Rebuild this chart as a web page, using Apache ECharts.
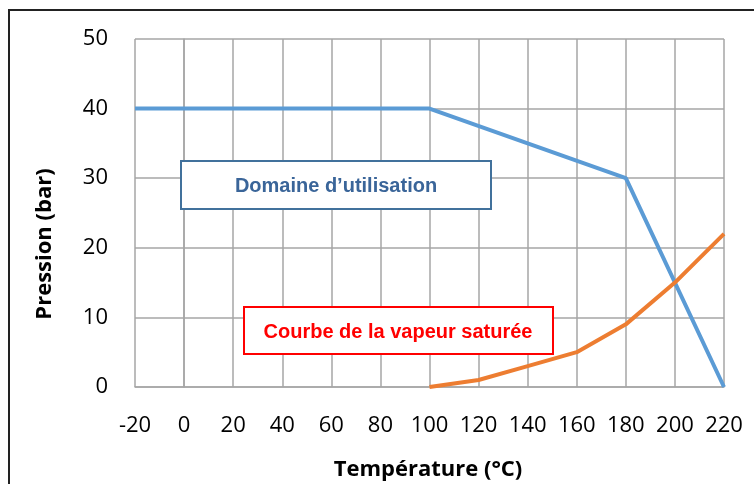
<!DOCTYPE html>
<html><head><meta charset="utf-8">
<script src="https://cdn.jsdelivr.net/npm/echarts@6/dist/echarts.min.js"></script>
<style>html,body{margin:0;padding:0;background:#fff}#c{width:754px;height:484px}</style>
</head><body><div id="c"></div>
<script>
const xTicks = [-20, 0, 20, 40, 60, 80, 100, 120, 140, 160, 180, 200, 220];
const yTicks = [0, 10, 20, 30, 40, 50];
const domaineX = [-20, 100, 180, 220];
const domaineY = [40, 40, 30, 0];
const vapeurX = [100, 120, 140, 160, 180, 200, 220];
const vapeurY = [0, 1, 3, 5, 9, 15, 22];
const xTitle = 'Température (°C)';
const yTitle = 'Pression (bar)';
const box1Text = 'Domaine d\u2019utilisation';
const box2Text = 'Courbe de la vapeur saturée';

const chart = echarts.init(document.getElementById('c'), null, {renderer: 'canvas'});
const gridStyle = {color: '#a6a6a6', width: 1.5};
const lblFont = {color: '#000', fontSize: 22, fontFamily: 'Open Sans, Noto Sans, sans-serif'};
chart.setOption({
  animation: false,
  grid: {left: 135, top: 39, right: 30, bottom: 97, containLabel: false, outerBoundsMode: 'none'},
  xAxis: {
    type: 'value', min: xTicks[0], max: xTicks[xTicks.length-1], interval: 20,
    axisLine: {show: true, lineStyle: gridStyle}, axisTick: {show: false},
    splitLine: {show: true, lineStyle: gridStyle},
    axisLabel: Object.assign({margin: 28}, lblFont)
  },
  yAxis: {
    type: 'value', min: yTicks[0], max: yTicks[yTicks.length-1], interval: 10,
    axisLine: {show: true, lineStyle: gridStyle}, axisTick: {show: false},
    splitLine: {show: true, lineStyle: gridStyle},
    axisLabel: Object.assign({margin: 27}, lblFont)
  },
  series: [
    {type: 'line', data: domaineX.map((x,i)=>[x, domaineY[i]]), symbol: 'none',
     lineStyle: {color: '#5B9BD5', width: 4}, z: 3},
    {type: 'line', data: vapeurX.map((x,i)=>[x, vapeurY[i]]), symbol: 'none',
     lineStyle: {color: '#ED7D31', width: 4}, z: 3}
  ],
  graphic: [
    {type: 'polyline', shape: {points: [[9, 484], [9, 10], [754, 10]]},
     style: {stroke: '#222', lineWidth: 2, fill: null}, z: 10},
    {type: 'text', x: 45, y: 244, rotation: Math.PI / 2, z: 11,
     style: {text: yTitle, align: 'center', verticalAlign: 'middle', fill: '#000',
       font: 'bold 22px "Open Sans", "Noto Sans", sans-serif'}},
    {type: 'text', x: 428, y: 470, z: 11,
     style: {text: xTitle, align: 'center', verticalAlign: 'middle', fill: '#000',
       font: 'bold 22px "Open Sans", "Noto Sans", sans-serif'}},
    {type: 'rect', shape: {x: 181, y: 161, width: 310, height: 48},
     style: {fill: '#fff', stroke: '#41719C', lineWidth: 2}, z: 10},
    {type: 'text', x: 336, y: 186, z: 11,
     style: {text: box1Text, align: 'center', verticalAlign: 'middle', fill: '#3A6599',
       font: 'bold 20px "Liberation Sans", Arial, sans-serif'}},
    {type: 'rect', shape: {x: 244, y: 307, width: 309, height: 47},
     style: {fill: '#fff', stroke: '#FF0000', lineWidth: 2}, z: 10},
    {type: 'text', x: 398, y: 332, z: 11,
     style: {text: box2Text, align: 'center', verticalAlign: 'middle', fill: '#FF0000',
       font: 'bold 20px "Liberation Sans", Arial, sans-serif'}}
  ]
});
</script></body></html>
